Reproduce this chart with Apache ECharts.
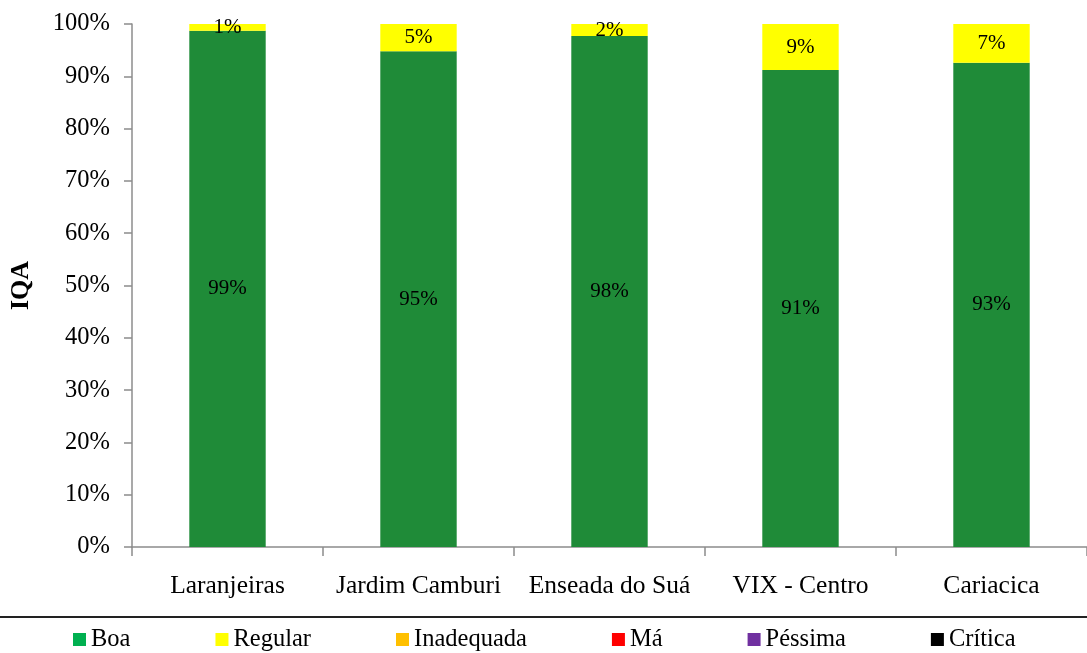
<!DOCTYPE html>
<html>
<head>
<meta charset="utf-8">
<script src="https://cdn.jsdelivr.net/npm/echarts@6/dist/echarts.min.js"></script>
<style>
html,body{margin:0;padding:0;background:#fff;}
#c{width:1087px;height:653px;}
</style>
</head>
<body>
<div id="c"></div>
<script>
const categories = ['Laranjeiras', 'Jardim Camburi', 'Enseada do Suá', 'VIX - Centro', 'Cariacica'];
const boa = [98.7, 94.8, 97.7, 91.2, 92.6];
const regular = [1.3, 5.2, 2.3, 8.8, 7.4];
const inadequada = [0, 0, 0, 0, 0];
const ma = [0, 0, 0, 0, 0];
const pessima = [0, 0, 0, 0, 0];
const critica = [0, 0, 0, 0, 0];
const yTicks = [0, 10, 20, 30, 40, 50, 60, 70, 80, 90, 100];

const FONT = '"Liberation Serif", "Times New Roman", serif';
const chart = echarts.init(document.getElementById('c'));

function lbl(show) {
  return {
    show: show,
    position: 'inside',
    color: '#000',
    fontFamily: FONT,
    fontSize: 21,
    formatter: p => Math.round(p.value) + '%'
  };
}

const seriesDefs = [
  {name: 'Boa', data: boa, color: '#1f8b38', label: true},
  {name: 'Regular', data: regular, color: '#ffff00', label: true},
  {name: 'Inadequada', data: inadequada, color: '#ffc000', label: false},
  {name: 'Má', data: ma, color: '#ff0000', label: false},
  {name: 'Péssima', data: pessima, color: '#7030a0', label: false},
  {name: 'Crítica', data: critica, color: '#000000', label: false}
];

const option = {
  animation: false,
  backgroundColor: '#fff',
  grid: {left: 130, right: 0, top: 24, bottom: 106, containLabel: false},
  legend: {
    left: 68,
    top: 622,
    itemWidth: 13,
    itemHeight: 13,
    itemGap: 85,
    icon: 'rect',
    textStyle: {fontFamily: FONT, fontSize: 24.5, color: '#000'},
    data: [
      {name: 'Boa', itemStyle: {color: '#00b050'}},
      {name: 'Regular', itemStyle: {color: '#ffff00'}},
      {name: 'Inadequada', itemStyle: {color: '#ffc000'}},
      {name: 'Má', itemStyle: {color: '#ff0000'}},
      {name: 'Péssima', itemStyle: {color: '#7030a0'}},
      {name: 'Crítica', itemStyle: {color: '#000000'}}
    ]
  },
  xAxis: {
    type: 'category',
    data: categories,
    axisLine: {lineStyle: {color: '#8c8c8c', width: 1.5}},
    axisTick: {show: true, length: 9, inside: false, lineStyle: {color: '#8c8c8c', width: 1.5}},
    axisLabel: {fontFamily: FONT, fontSize: 25.5, color: '#000', margin: 26, interval: 0}
  },
  yAxis: {
    type: 'value',
    min: 0,
    max: 100,
    interval: 10,
    name: 'IQA',
    nameLocation: 'middle',
    nameGap: 98,
    nameTextStyle: {fontFamily: FONT, fontSize: 26, fontWeight: 'bold', color: '#000'},
    axisLine: {show: true, lineStyle: {color: '#8c8c8c', width: 1.5}},
    axisTick: {show: true, length: 8, lineStyle: {color: '#8c8c8c', width: 1.5}},
    splitLine: {show: false},
    axisLabel: {
      fontFamily: FONT, fontSize: 24.5, color: '#000', margin: 22,
      formatter: v => yTicks.includes(v) ? v + '%' : ''
    }
  },
  graphic: [{
    type: 'line',
    shape: {x1: 0, y1: 617, x2: 1087, y2: 617},
    style: {stroke: '#222', lineWidth: 2}
  }],
  series: seriesDefs.map(s => ({
    name: s.name,
    type: 'bar',
    stack: 'iqa',
    barWidth: '40%',
    data: s.data,
    itemStyle: {color: s.color},
    label: lbl(s.label)
  }))
};
chart.setOption(option);
</script>
</body>
</html>
